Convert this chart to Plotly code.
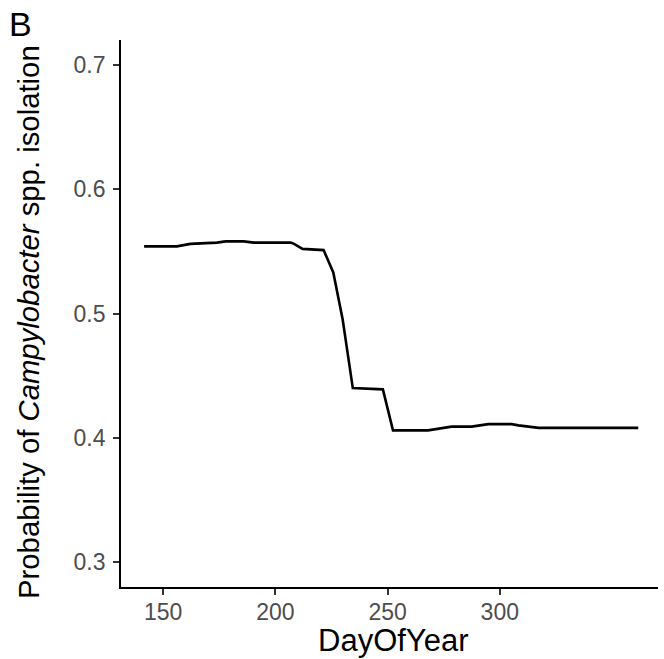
import plotly.graph_objects as go

# Partial dependence: day of year vs probability
day_of_year = [141.5, 156.1, 162.1, 174.0, 177.8, 185.9, 190.4, 206.8, 208.3, 212.1,
               221.5, 225.8, 230.0, 234.5, 247.9, 252.4, 268.0, 278.5, 287.4, 294.9,
               305.3, 308.3, 317.3, 361.7]
probability = [0.554, 0.554, 0.556, 0.557, 0.558, 0.558, 0.557, 0.557, 0.556, 0.552,
               0.551, 0.533, 0.495, 0.440, 0.439, 0.406, 0.406, 0.409, 0.409, 0.411,
               0.411, 0.410, 0.408, 0.408]

x_ticks = [150, 200, 250, 300]
y_ticks = [0.3, 0.4, 0.5, 0.6, 0.7]
y_tick_labels = ["0.3", "0.4", "0.5", "0.6", "0.7"]
x_title = "DayOfYear"
y_title = "Probability of <i>Campylobacter</i> spp. isolation"
panel_tag = "B"

FONT = "Arial, Liberation Sans, sans-serif"

fig = go.Figure()
fig.add_trace(go.Scatter(x=day_of_year, y=probability, mode="lines",
                         line=dict(color="black", width=2.6), showlegend=False,
                         hoverinfo="skip"))

W, H = 664, 659
L, R, T, B = 121, 6, 40, 72
pw, ph = W - L - R, H - T - B

def px_x(p):  # pixel x -> paper
    return (p - L) / pw

def px_y(p):  # pixel y (from top) -> paper
    return (H - B - p) / ph

fig.update_layout(
    width=W, height=H,
    margin=dict(l=L, r=R, t=T, b=B, pad=0, autoexpand=False),
    paper_bgcolor="white", plot_bgcolor="white",
    font=dict(family=FONT, color="black"),
    xaxis=dict(range=[131.2, 370.5], tickvals=x_ticks, showgrid=False, zeroline=False,
               automargin=False,
               showline=True, linecolor="black", linewidth=1.8,
               ticks="outside", ticklen=6, tickwidth=1.5, tickcolor="#333333",
               ticklabelstandoff=-3,
               tickfont=dict(size=23, color="#4D4D4D", family=FONT)),
    yaxis=dict(range=[0.28, 0.72], tickvals=y_ticks, ticktext=y_tick_labels,
               showgrid=False, zeroline=False, automargin=False,
               showline=True, linecolor="black", linewidth=1.8,
               ticks="outside", ticklen=6, tickwidth=1.5, tickcolor="#333333",
               ticklabelstandoff=3,
               tickfont=dict(size=23, color="#4D4D4D", family=FONT)),
    annotations=[
        dict(text=panel_tag, xref="paper", yref="paper",
             x=px_x(7), y=px_y(3), xanchor="left", yanchor="top", showarrow=False,
             font=dict(size=34, color="black", family=FONT)),
        dict(text=x_title, xref="paper", yref="paper",
             x=px_x(393), y=px_y(640), xanchor="center", yanchor="middle", showarrow=False,
             font=dict(size=31, color="black", family=FONT)),
        dict(text=y_title, xref="paper", yref="paper", textangle=-90,
             x=px_x(29), y=px_y(322), xanchor="center", yanchor="middle", showarrow=False,
             font=dict(size=29.3, color="black", family=FONT)),
    ],
)

# remove the default page margin so the figure sits at the window's top-left corner
fig.write_html("out.html", config={"displayModeBar": False},
               post_script="document.body.style.margin='0';document.body.style.overflow='hidden';")
